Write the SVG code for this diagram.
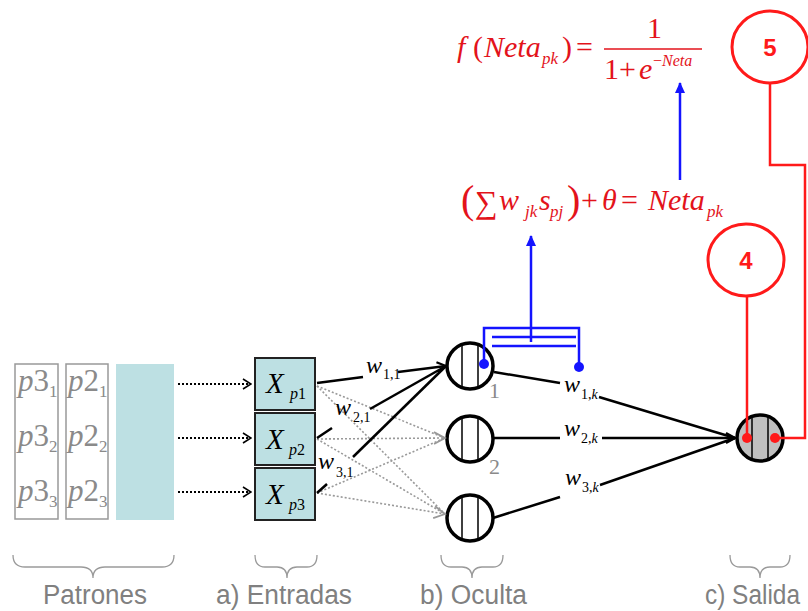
<svg xmlns="http://www.w3.org/2000/svg" width="808" height="611" viewBox="0 0 808 611">
<style>
.m{font-family:"Liberation Serif","Times New Roman",serif;}
.i{font-style:italic;}
.red{fill:#e3131b;}
.gray{fill:#8a8a8a;}
.lbl{font-family:"Liberation Sans Narrow","Liberation Sans",Arial,sans-serif;font-size:27px;fill:#808080;}
.box{fill:#bde0e3;stroke:#222;stroke-width:2;}
.neu{fill:#fff;stroke:#000;stroke-width:3.5;}
.bl{stroke:#000;stroke-width:2.5;fill:none;}
.dot{stroke:#999;stroke-width:1.6;stroke-dasharray:2 2;fill:none;}
.blk{stroke:#000;stroke-width:1.8;stroke-dasharray:2 2;fill:none;}
.blue{stroke:#1414ff;stroke-width:2.5;fill:none;}
.rl{stroke:#ff1a1a;stroke-width:2.5;fill:none;}
.brace{stroke:#9a9a9a;stroke-width:1.3;fill:none;}
</style>
<defs>
<marker id="ab" markerWidth="12" markerHeight="12" refX="10" refY="6" orient="auto" markerUnits="userSpaceOnUse"><path d="M1,1 L10,6 L1,11" fill="none" stroke="#000" stroke-width="2.2"/></marker>
<marker id="ag" markerWidth="14" markerHeight="14" refX="12" refY="7" orient="auto" markerUnits="userSpaceOnUse"><path d="M1,1 L12,7 L1,13" fill="none" stroke="#999" stroke-width="1.8"/></marker>
<marker id="ad" markerWidth="10" markerHeight="12" refX="9" refY="6" orient="auto" markerUnits="userSpaceOnUse"><path d="M1,1 L9,6 L1,11" fill="none" stroke="#000" stroke-width="1.6"/></marker>
<marker id="au" markerWidth="12" markerHeight="12" refX="10" refY="6" orient="auto" markerUnits="userSpaceOnUse"><path d="M0,1 L11,6 L0,11 Z" fill="#1414ff"/></marker>
</defs>

<g id="patrones">
<rect x="15" y="364" width="43" height="155" fill="#fff" stroke="#999" stroke-width="1.5"/>
<rect x="66" y="364" width="42" height="155" fill="#fff" stroke="#999" stroke-width="1.5"/>
<rect x="116" y="364" width="58" height="156" fill="#bde0e3"/>
<text class="m gray" font-size="31"><tspan x="18" y="391" class="i">p</tspan><tspan>3</tspan><tspan font-size="17" dy="6">1</tspan></text>
<text class="m gray" font-size="31"><tspan x="18" y="446" class="i">p</tspan><tspan>3</tspan><tspan font-size="17" dy="6">2</tspan></text>
<text class="m gray" font-size="31"><tspan x="18" y="501" class="i">p</tspan><tspan>3</tspan><tspan font-size="17" dy="6">3</tspan></text>
<text class="m gray" font-size="31"><tspan x="68" y="391" class="i">p</tspan><tspan>2</tspan><tspan font-size="17" dy="6">1</tspan></text>
<text class="m gray" font-size="31"><tspan x="68" y="446" class="i">p</tspan><tspan>2</tspan><tspan font-size="17" dy="6">2</tspan></text>
<text class="m gray" font-size="31"><tspan x="68" y="501" class="i">p</tspan><tspan>2</tspan><tspan font-size="17" dy="6">3</tspan></text>
</g>

<g id="input1"><rect class="box" x="255" y="358" width="60" height="52"/>
<text class="m" font-size="29"><tspan x="266" y="393" class="i">X</tspan><tspan x="290" y="399" font-size="16"><tspan class="i">p</tspan>1</tspan></text></g>
<g id="input2"><rect class="box" x="255" y="413" width="60" height="52"/>
<text class="m" font-size="29"><tspan x="266" y="449" class="i">X</tspan><tspan x="289" y="455" font-size="16"><tspan class="i">p</tspan>2</tspan></text></g>
<g id="input3"><rect class="box" x="255" y="468" width="60" height="52"/>
<text class="m" font-size="29"><tspan x="266" y="504" class="i">X</tspan><tspan x="289" y="510" font-size="16"><tspan class="i">p</tspan>3</tspan></text></g>

<g id="hidden1"><circle class="neu" cx="470" cy="366" r="23"/><path d="M462,344.4 V387.6 M478,344.4 V387.6" stroke="#000" stroke-width="1.5"/>
<text class="m gray" font-size="22" x="489" y="398">1</text></g>
<g id="hidden2"><circle class="neu" cx="470" cy="439" r="23"/><path d="M462,417.4 V460.6 M478,417.4 V460.6" stroke="#000" stroke-width="1.5"/>
<text class="m gray" font-size="22" x="489" y="474">2</text></g>
<g id="hidden3"><circle class="neu" cx="470" cy="518" r="23"/><path d="M462,496.4 V539.6 M478,496.4 V539.6" stroke="#000" stroke-width="1.5"/></g>

<g id="output"><circle cx="760" cy="438" r="23" fill="#c0c0c0" stroke="#000" stroke-width="3.5"/><path d="M752,416.4 V459.6 M768,416.4 V459.6" stroke="#000" stroke-width="1.5"/></g>

<g id="node4"><ellipse cx="746" cy="260" rx="38" ry="36" fill="#fff" stroke="#ff1a1a" stroke-width="3"/>
<text x="746" y="269" text-anchor="middle" font-family="Liberation Sans,Arial,sans-serif" font-weight="bold" font-size="24" fill="#ff1a1a">4</text></g>
<g id="node5"><ellipse cx="770" cy="47" rx="38" ry="36" fill="#fff" stroke="#ff1a1a" stroke-width="3"/>
<text x="770" y="56" text-anchor="middle" font-family="Liberation Sans,Arial,sans-serif" font-weight="bold" font-size="24" fill="#ff1a1a">5</text></g>

<g id="formula1" class="m red">
<text font-size="30" x="457" y="57" class="i">f</text>
<text font-size="30" x="473" y="57">(</text>
<text font-size="30" x="484" y="57" class="i">Neta</text>
<text font-size="17" x="542" y="64" class="i">pk</text>
<text font-size="30" x="562" y="57">)</text>
<text font-size="30" x="576" y="57">=</text>
<text font-size="30" x="647" y="38">1</text>
<line x1="604" y1="49" x2="702" y2="49" stroke="#e3131b" stroke-width="1.5"/>
<text font-size="30" x="604" y="79">1</text>
<text font-size="30" x="619" y="79">+</text>
<text font-size="30" x="639" y="79" class="i">e</text>
<text font-size="16" x="653" y="66">−<tspan class="i">Neta</tspan></text>
</g>

<g id="formula2" class="m red">
<text font-size="40" x="461" y="213">(</text>
<text font-size="32" x="475" y="213">∑</text>
<text font-size="30" x="499" y="210" class="i">w</text>
<text font-size="17" x="525" y="217" class="i">jk</text>
<text font-size="30" x="539" y="210" class="i">s</text>
<text font-size="17" x="550" y="217" class="i">pj</text>
<text font-size="40" x="567" y="213">)</text>
<text font-size="30" x="581" y="210">+</text>
<text font-size="30" x="602" y="210" class="i">θ</text>
<text font-size="30" x="621" y="210">=</text>
<text font-size="30" x="648" y="210" class="i">Neta</text>
<text font-size="17" x="707" y="217" class="i">pk</text>
</g>

<g id="connectors">
<line class="blk" x1="178" y1="384" x2="251" y2="384" marker-end="url(#ad)"/>
<line class="blk" x1="178" y1="438" x2="251" y2="438" marker-end="url(#ad)"/>
<line class="blk" x1="178" y1="492" x2="251" y2="492" marker-end="url(#ad)"/>

<line class="dot" x1="317" y1="386" x2="445" y2="438"/>
<line class="dot" x1="317" y1="386" x2="445" y2="514"/>
<line class="dot" x1="317" y1="439" x2="445" y2="438" marker-end="url(#ag)"/>
<line class="dot" x1="317" y1="439" x2="445" y2="514"/>
<line class="dot" x1="317" y1="493" x2="445" y2="438"/>
<line class="dot" x1="317" y1="493" x2="445" y2="514" marker-end="url(#ag)"/>

<line class="bl" x1="317" y1="383" x2="363" y2="377"/>
<line class="bl" x1="398" y1="372" x2="446" y2="366" marker-end="url(#ab)"/>
<line class="bl" x1="317" y1="438" x2="332" y2="428"/>
<line class="bl" x1="370" y1="409" x2="446" y2="366"/>
<line class="bl" x1="317" y1="493" x2="327" y2="484"/>
<line class="bl" x1="353" y1="457" x2="446" y2="366"/>

<text class="m" font-size="24"><tspan x="366" y="373" class="i">w</tspan><tspan font-size="14" x="383" y="379">1,1</tspan></text>
<text class="m" font-size="24"><tspan x="335" y="415" class="i">w</tspan><tspan font-size="14" x="353" y="422">2,1</tspan></text>
<text class="m" font-size="24"><tspan x="318" y="469" class="i">w</tspan><tspan font-size="14" x="336" y="477">3,1</tspan></text>

<line class="bl" x1="494" y1="372" x2="560" y2="383"/>
<line class="bl" x1="599" y1="397" x2="735" y2="438"/>
<line class="bl" x1="493" y1="438" x2="560" y2="438"/>
<line class="bl" x1="602" y1="438" x2="735" y2="438" marker-end="url(#ab)"/>
<line class="bl" x1="493" y1="518" x2="560" y2="497"/>
<line class="bl" x1="600" y1="485" x2="735" y2="438"/>

<text class="m" font-size="24"><tspan x="564" y="392" class="i">w</tspan><tspan font-size="14" x="581" y="399">1,<tspan class="i">k</tspan></tspan></text>
<text class="m" font-size="24"><tspan x="564" y="436" class="i">w</tspan><tspan font-size="14" x="581" y="443">2,<tspan class="i">k</tspan></tspan></text>
<text class="m" font-size="24"><tspan x="565" y="485" class="i">w</tspan><tspan font-size="14" x="582" y="492">3,<tspan class="i">k</tspan></tspan></text>

<path class="blue" d="M484,364 V328 H579 V367"/>
<path class="blue" d="M492,337 H576 M492,346 H576"/>
<line class="blue" x1="531" y1="342" x2="531" y2="236" marker-end="url(#au)"/>
<circle cx="484" cy="364" r="5" fill="#1414ff"/>
<circle cx="579" cy="367" r="5" fill="#1414ff"/>
<line class="blue" x1="680" y1="180" x2="680" y2="83" marker-end="url(#au)"/>

<path class="rl" d="M747,438 V296"/>
<path class="rl" d="M770,83 V165 H805 V438 H775"/>
<circle cx="747" cy="438" r="5" fill="#ff1a1a"/>
<circle cx="775" cy="438" r="5" fill="#ff1a1a"/>
</g>

<g id="braces">
<path class="brace" d="M13,555 Q13,567 25,567 H81 Q93,567 93,578 Q93,567 105,567 H162 Q174,567 174,555"/>
<path class="brace" d="M255,555 Q255,567 265,567 H277 Q287,567 287,578 Q287,567 297,567 H307 Q317,567 317,555"/>
<path class="brace" d="M441,555 Q441,567 451,567 H462 Q472,567 472,578 Q472,567 482,567 H493 Q503,567 503,555"/>
<path class="brace" d="M730,555 Q730,567 740,567 H750 Q760,567 760,578 Q760,567 770,567 H780 Q790,567 790,555"/>
<text class="lbl" x="43" y="604" textLength="104" lengthAdjust="spacingAndGlyphs">Patrones</text>
<text class="lbl" x="216" y="604" textLength="136" lengthAdjust="spacingAndGlyphs">a) Entradas</text>
<text class="lbl" x="420" y="604" textLength="107" lengthAdjust="spacingAndGlyphs">b) Oculta</text>
<text class="lbl" x="705" y="604" textLength="95" lengthAdjust="spacingAndGlyphs">c) Salida</text>
</g>
</svg>
